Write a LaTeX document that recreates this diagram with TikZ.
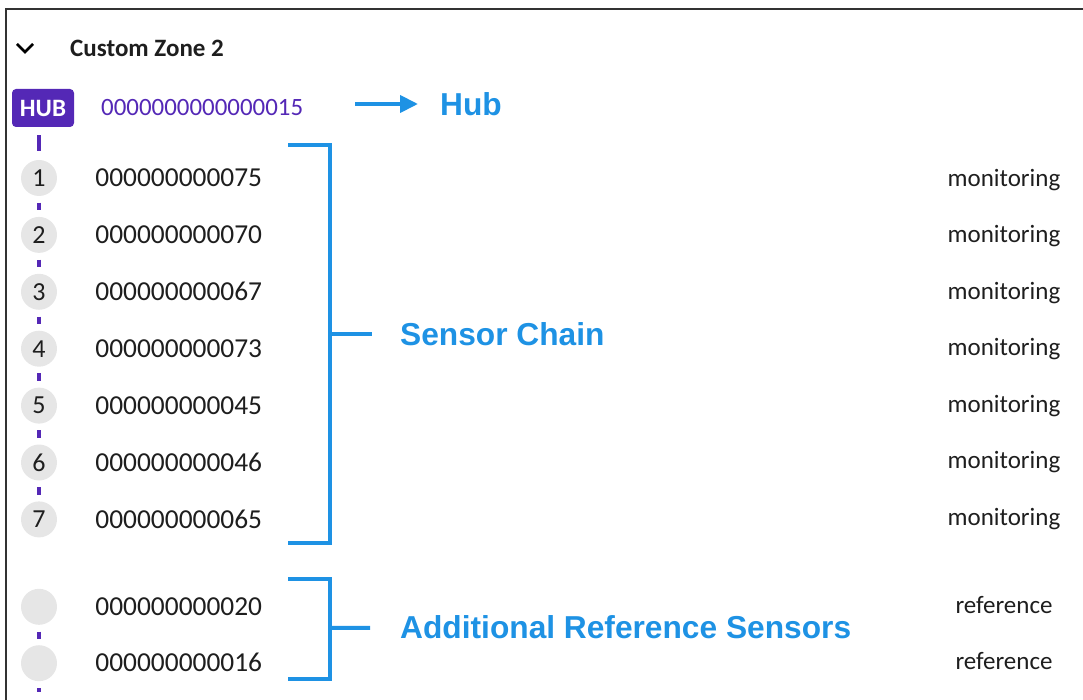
\documentclass[tikz,border=0pt]{standalone}
\usepackage{fontspec}
\setmainfont{Carlito}
\newfontfamily\labelfont{Liberation Sans}
\usepackage{xcolor}
\usepackage{tikz}
\usetikzlibrary{arrows.meta,positioning}
\definecolor{hubpurple}{RGB}{84,40,182}
\definecolor{calloutblue}{RGB}{30,146,228}
\definecolor{dotgray}{RGB}{230,230,230}
\definecolor{idtext}{RGB}{30,30,30}

\begin{document}
\begin{tikzpicture}[x=1pt, y=-1pt,
dot/.style={circle, fill=dotgray, minimum size=36pt, inner sep=0pt, text=idtext, font=\fontsize{26}{28}\selectfont},
hubtag/.style={fill=hubpurple, rounded corners=4pt, minimum width=62pt, minimum height=38pt, inner sep=0pt, text=white, font=\bfseries\fontsize{25}{26}\selectfont},
sid/.style={anchor=west, inner sep=0pt, text height=17.3pt, text depth=0pt, text=idtext, font=\fontsize{27.4}{30}\selectfont},
state/.style={inner sep=0pt, text=idtext, font=\fontsize{25}{28}\selectfont},
link/.style={draw=hubpurple, line width=3.5pt, shorten <=6.5pt, shorten >=6.5pt},
brace/.style={draw=calloutblue, line width=4pt},
callout/.style={anchor=west, inner sep=0pt, text height=22.6pt, text depth=0pt, text=calloutblue, font=\labelfont\bfseries\fontsize{31.7}{34}\selectfont},
arrow/.style={-{Triangle[length=18pt, width=17pt]}, draw=calloutblue, line width=4pt}
]
\useasboundingbox (0,0) rectangle (1083,700);
\draw[line width=2pt, draw=black!80] (1083,9) -- (6,9) -- (6,700);
\draw[line width=2.8pt] (17,44) -- (25,52) -- (33,44);
\node[anchor=west, inner sep=0pt, text=idtext, font=\bfseries\fontsize{25}{28}\selectfont] (zone) at (70,48) {Custom Zone 2};

\node[hubtag] (hub) at (43,108) {HUB};
\node[sid, text=hubpurple, text height=15.7pt, font=\fontsize{24.9}{28}\selectfont] (hubid) at (101,108) {0000000000000015};

\node[dot] (s1) at (39,178) {1};
\node[dot, below=20.5pt of s1] (s2) {2};
\node[dot, below=20.5pt of s2] (s3) {3};
\node[dot, below=20.5pt of s3] (s4) {4};
\node[dot, below=20.5pt of s4] (s5) {5};
\node[dot, below=20.5pt of s5] (s6) {6};
\node[dot, below=20.5pt of s6] (s7) {7};
\node[dot, below=51pt of s7] (r1) {};
\node[dot, below=20pt of r1] (r2) {};
\coordinate (chainend) at (39,700);

\node[sid, right=38pt of s1] (id1) {000000000075};
\node[sid, right=38pt of s2] (id2) {000000000070};
\node[sid, right=38pt of s3] (id3) {000000000067};
\node[sid, right=38pt of s4] (id4) {000000000073};
\node[sid, right=38pt of s5] (id5) {000000000045};
\node[sid, right=38pt of s6] (id6) {000000000046};
\node[sid, right=38pt of s7] (id7) {000000000065};
\node[sid, right=38pt of r1] (ref1) {000000000020};
\node[sid, right=38pt of r2] (ref2) {000000000016};

\node[state] (st1) at (1004,180) {monitoring};
\node[state] (st2) at (1004,236.5) {monitoring};
\node[state] (st3) at (1004,293) {monitoring};
\node[state] (st4) at (1004,349.5) {monitoring};
\node[state] (st5) at (1004,406) {monitoring};
\node[state] (st6) at (1004,462.5) {monitoring};
\node[state] (st7) at (1004,519) {monitoring};
\node[state] (rs1) at (1004,605) {reference};
\node[state] (rs2) at (1004,661) {reference};

% purple chain
\draw[link, shorten <=8pt, shorten >=9pt] (hub.south -| s1) -- (s1.north);
\draw[link] (s1) -- (s2);
\draw[link] (s2) -- (s3);
\draw[link] (s3) -- (s4);
\draw[link] (s4) -- (s5);
\draw[link] (s5) -- (s6);
\draw[link] (s6) -- (s7);
\draw[link] (r1) -- (r2);
\draw[link, shorten <=7pt, shorten >=8pt] (r2) -- (chainend);

% callouts
\node[callout] (hublbl) at (440,104) {Hub};
\node[callout] (chainlbl) at (400,334) {Sensor Chain};
\node[callout] (reflbl) at (400,627) {Additional Reference Sensors};
\coordinate (hubtail) at (355,104);
\coordinate (chainmid) at (330,334);
\coordinate (refmid) at (330,628);
\draw[arrow, shorten >=22pt] (hubtail) -- (hublbl);
\draw[brace] (288,145) -- (330,145) -- (330,543) -- (288,543);
\draw[brace] (288,579) -- (330,579) -- (330,679) -- (288,679);
\draw[brace, shorten >=28pt] (chainmid) -- (chainlbl);
\draw[brace, shorten >=30pt] (refmid) -- (reflbl);
\end{tikzpicture}
\end{document}
